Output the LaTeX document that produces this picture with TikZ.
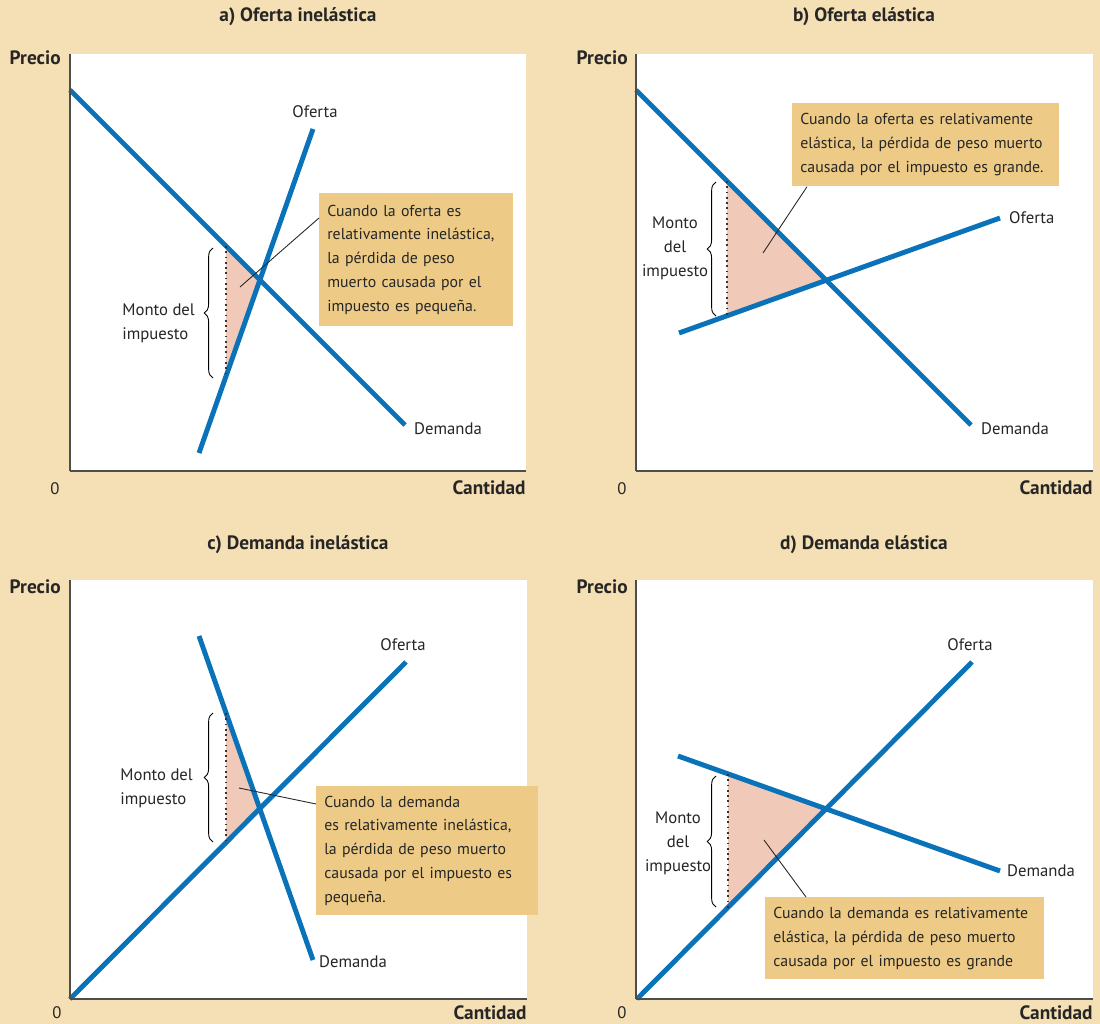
\documentclass[tikz,border=0pt]{standalone}
\usepackage{fontspec}
\setmainfont{PT Sans}
\usepackage{xcolor}
\usetikzlibrary{decorations.pathreplacing}
\definecolor{bgwheat}{HTML}{F5DFB4}
\definecolor{notebox}{HTML}{EDCB86}
\definecolor{curveblue}{HTML}{0A72B8}
\definecolor{dwlpink}{HTML}{F1C9B9}
\definecolor{axisgray}{HTML}{4D4D4D}

\begin{document}
\begin{tikzpicture}[x=0.02cm,y=-0.02cm,
  every node/.style={font=\fontsize{9.5}{13.6}\selectfont,text=black!85},
  hdr/.style={font=\fontsize{11}{13.6}\selectfont\bfseries,inner sep=0pt},
  ttl/.style={font=\fontsize{11}{13.6}\selectfont\bfseries},
  curve/.style={line width=2.8pt,curveblue},
  wedge/.style={dotted,line width=1pt,black!80},
  taxbrace/.style={decorate,decoration={brace,amplitude=5pt},line width=0.5pt},
  note/.style={fill=notebox,anchor=north west,align=left,inner xsep=0.16cm,inner ysep=0pt,
    font=\fontsize{9}{13.6}\selectfont},
  pointer/.style={line width=0.5pt,black!85}]
  \fill[bgwheat] (0,0) rectangle (1100,1024);
  \useasboundingbox (0,0) rectangle (1100,1024);

  % a) oferta inelastica
  \fill[white] (70,54) rectangle (526,471);
  \fill[dwlpink] (226,246) -- (260,280) -- (226,376) -- cycle;
  \draw[curve] (70,90) -- (405,425);
  \draw[curve] (199,453) -- (313,129);
  \draw[wedge] (226,246) -- (226,376);
  \draw[taxbrace] (213,378) -- (213,248);
  \draw[axisgray,line width=0.8pt] (70,54) -- (70,471);
  \draw[axisgray,line width=1.4pt] (70,471) -- (526,471);
  \node[ttl] (tita) at (298,17) {a) Oferta inelástica};
  \node[hdr,anchor=east] (prea) at (61,58) {Precio};
  \node[hdr,anchor=east] (cana) at (526,488) {Cantidad};
  \node (zeroa) at (55,489) {0};
  \node (ofa) at (315,112) {Oferta};
  \node[anchor=west] (dema) at (408,429) {Demanda};
  \node[anchor=west,align=left,inner sep=0pt] (monta) at (122,323) {Monto del\\impuesto};
  \coordinate (ptra) at (240,287);
  \node[note,text width=3.56cm,minimum height=2.66cm] (boxa) at (319,193)
    {Cuando la oferta es\\relativamente inelástica,\\la pérdida de peso\\muerto causada por el\\impuesto es pequeña.};
  \draw[pointer] (ptra) -- ([yshift=-0.5cm]boxa.north west);

  % b) oferta elastica
  \fill[white] (636,54) rectangle (1093,471);
  \fill[dwlpink] (727,181) -- (826,280) -- (727,316) -- cycle;
  \draw[curve] (636,90) -- (971,425);
  \draw[curve] (679,333) -- (1000,218);
  \draw[wedge] (727,181) -- (727,316);
  \draw[taxbrace] (716,316) -- (716,182);
  \draw[axisgray,line width=0.8pt] (636,54) -- (636,471);
  \draw[axisgray,line width=1.4pt] (636,471) -- (1093,471);
  \node[ttl] (titb) at (864,17) {b) Oferta elástica};
  \node[hdr,anchor=east] (preb) at (628,58) {Precio};
  \node[hdr,anchor=east] (canb) at (1093,488) {Cantidad};
  \node (zerob) at (622,489) {0};
  \node[anchor=west] (ofb) at (1003,218) {Oferta};
  \node[anchor=west] (demb) at (975,429) {Demanda};
  \node[align=center,inner sep=0pt] (montb) at (675,248) {Monto\\del\\impuesto};
  \coordinate (ptrb) at (763,253);
  \node[note,text width=5.02cm,minimum height=1.66cm] (boxb) at (792,103)
    {Cuando la oferta es relativamente\\elástica, la pérdida de peso muerto\\causada por el impuesto es grande.};
  \draw[pointer] (ptrb) -- ([xshift=0.3cm]boxb.south west);

  % c) demanda inelastica
  \fill[white] (70,580) rectangle (527,999);
  \fill[dwlpink] (226,713) -- (259,808) -- (226,842) -- cycle;
  \draw[curve] (199,636) -- (313,960);
  \draw[curve] (70,999) -- (406,662);
  \draw[wedge] (226,713) -- (226,842);
  \draw[taxbrace] (213,842) -- (213,713);
  \draw[axisgray,line width=0.8pt] (70,580) -- (70,999);
  \draw[axisgray,line width=1.4pt] (70,999) -- (527,999);
  \node[ttl] (titc) at (298,545) {c) Demanda inelástica};
  \node[hdr,anchor=east] (prec) at (61,587) {Precio};
  \node[hdr,anchor=east] (canc) at (527,1013) {Cantidad};
  \node (zeroc) at (57,1013) {0};
  \node (ofc) at (403,645) {Oferta};
  \node[anchor=west] (demc) at (313,962) {Demanda};
  \node[anchor=west,align=left,inner sep=0pt] (montc) at (120,788) {Monto del\\impuesto};
  \coordinate (ptrc) at (239,788);
  \node[note,text width=4.12cm,minimum height=2.58cm] (boxc) at (316,786)
    {Cuando la demanda\\es relativamente inelástica,\\la pérdida de peso muerto\\causada por el impuesto es\\pequeña.};
  \draw[pointer] (ptrc) -- ([yshift=-0.36cm]boxc.north west);

  % d) demanda elastica
  \fill[white] (636,580) rectangle (1093,999);
  \fill[dwlpink] (728,774) -- (827,809) -- (728,908) -- cycle;
  \draw[curve] (678,756) -- (1000,871);
  \draw[curve] (637,999) -- (972,662);
  \draw[wedge] (728,774) -- (728,908);
  \draw[taxbrace] (716,907) -- (716,776);
  \draw[axisgray,line width=0.8pt] (636,580) -- (636,999);
  \draw[axisgray,line width=1.4pt] (636,999) -- (1093,999);
  \node[ttl] (titd) at (864,545) {d) Demanda elástica};
  \node[hdr,anchor=east] (pred) at (628,587) {Precio};
  \node[hdr,anchor=east] (cand) at (1093,1013) {Cantidad};
  \node (zerod) at (622,1013) {0};
  \node (ofd) at (970,645) {Oferta};
  \node[anchor=west] (demd) at (1001,871) {Demanda};
  \node[align=center,inner sep=0pt] (montd) at (678,843) {Monto\\del\\impuesto};
  \coordinate (ptrd) at (764,840);
  \node[note,text width=5.26cm,minimum height=1.64cm] (boxd) at (765,897)
    {Cuando la demanda es relativamente\\elástica, la pérdida de peso muerto\\causada por el impuesto es grande};
  \draw[pointer] (ptrd) -- ([xshift=0.82cm]boxd.north west);
\end{tikzpicture}
\end{document}
